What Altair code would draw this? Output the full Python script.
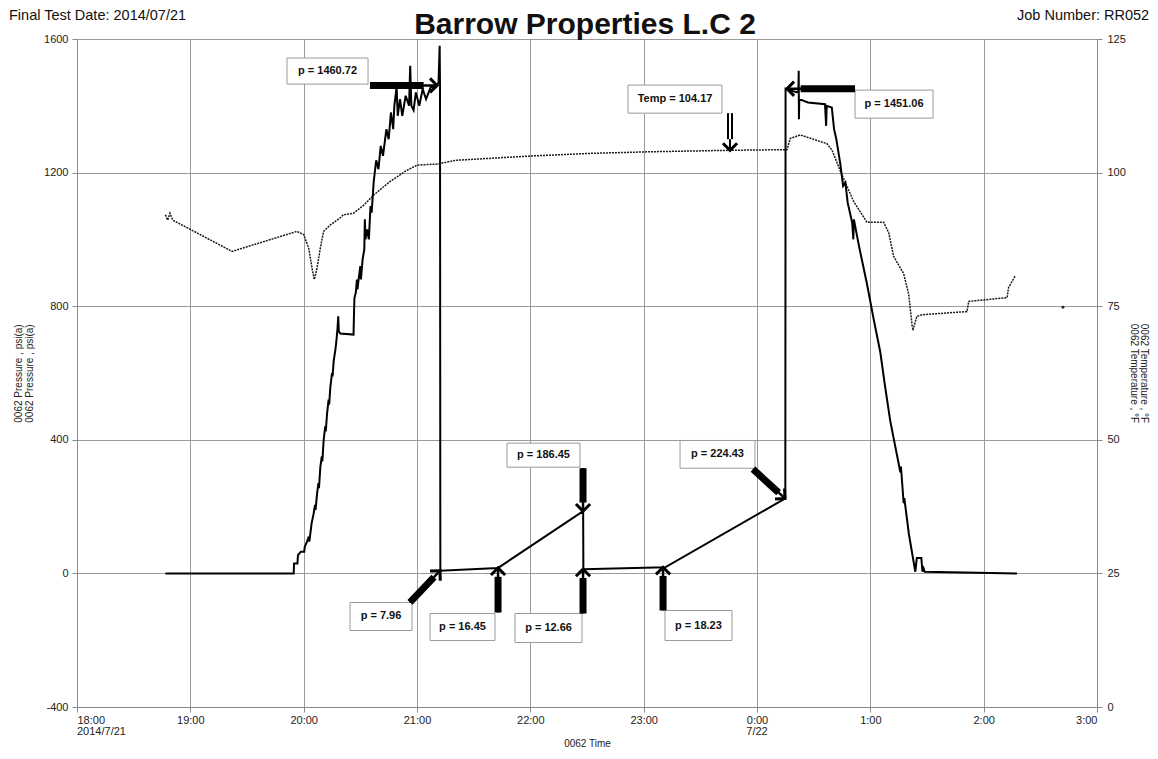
import numpy as np
import pandas as pd
import altair as alt

W, H = 1020, 668
X_DOMAIN = [0, 9]          # hours after 18:00 on 2014/7/21
P_DOMAIN = [-400, 1600]    # psi(a)
T_DOMAIN = [0, 125]        # deg F
FONT = "Liberation Sans"

# ---------------- pressure series (hours after 18:00, psi) ----------------
p_hours = [0.78, 1.912, 1.915, 1.945, 1.95, 1.975, 2.005, 2.01, 2.03, 2.045, 2.05, 2.07,
           2.088, 2.1, 2.105, 2.118, 2.13, 2.135, 2.147, 2.16, 2.165, 2.176, 2.19, 2.195,
           2.206, 2.22, 2.225, 2.235, 2.25, 2.255, 2.265, 2.28, 2.29, 2.3, 2.305, 2.31,
           2.323, 2.44, 2.445, 2.448, 2.46, 2.47, 2.475, 2.485, 2.5, 2.505, 2.52, 2.535,
           2.54, 2.545, 2.56, 2.575, 2.59, 2.6, 2.618, 2.64, 2.66, 2.68, 2.7, 2.73, 2.75,
           2.77, 2.79, 2.8, 2.82, 2.83, 2.85, 2.87, 2.9, 2.93, 2.94, 2.95, 2.97, 2.99,
           3.02, 3.05, 3.08, 3.12, 3.177, 3.19, 3.2, 3.203, 3.206, 3.716, 4.466, 4.468,
           5.19, 6.25, 6.252, 6.3, 6.365, 6.368, 6.37, 6.373, 6.45, 6.6, 6.61, 6.615,
           6.66, 6.68, 6.7, 6.735, 6.76, 6.78, 6.8, 6.84, 6.85, 6.855, 6.9, 6.97, 7.03,
           7.088, 7.13, 7.176, 7.22, 7.265, 7.27, 7.294, 7.3, 7.34, 7.397, 7.41, 7.45,
           7.46, 7.47, 7.48, 8.294]
p_psi = [0, 0, 30, 30, 55, 65, 65, 80, 95, 110, 95, 150,
         179, 205, 190, 238, 270, 255, 318, 350, 335, 398, 440, 425,
         477, 520, 505, 556, 600, 590, 636, 670, 700, 740, 770, 725,
         718, 715, 790, 825, 840, 880, 850, 880, 920, 880, 940, 970,
         1060, 1000, 1030, 1000, 1100, 1080, 1173, 1237, 1210, 1280, 1250, 1330, 1300,
         1380, 1330, 1400, 1456, 1370, 1420, 1370, 1430, 1400, 1520, 1400, 1387, 1440,
         1400, 1450, 1420, 1455, 1460.72, 1470, 1580, 1460, 7.96, 16.45, 186.45, 12.66,
         18.23, 224.43, 1451.06, 1445, 1440, 1505, 1360, 1420, 1410, 1405, 1340, 1400,
         1395, 1330, 1300, 1226, 1160, 1170, 1110, 1050, 1000, 1060, 980, 867, 760,
         662, 560, 456, 380, 303, 320, 210, 225, 118, 5, 46, 46,
         5, 15, 5, 0]

# ---------------- temperature series (hours after 18:00, deg F) ----------------
t_hours = [0.78, 0.8, 0.82, 0.845, 1.368, 1.94, 2.0, 2.044, 2.074, 2.094, 2.118, 2.147,
           2.176, 2.235, 2.32, 2.35, 2.44, 2.53, 2.618, 2.76, 2.9, 3.0, 3.18, 3.34, 4.0,
           4.53, 5.06, 5.76, 6.25, 6.265, 6.294, 6.382, 6.618, 6.662, 6.735, 6.853, 6.97,
           7.118, 7.162, 7.206, 7.294, 7.338, 7.368, 7.376, 7.41, 7.456, 7.853, 7.868,
           8.206, 8.22, 8.28]
t_degf = [92.1, 91.1, 92.4, 91.1, 85.25, 89.0, 88.4, 85.9, 82.1, 80.0, 82.1, 85.9,
          89.0, 90.2, 91.5, 92.1, 92.4, 93.9, 95.8, 98.3, 100.3, 101.4, 101.6, 102.3, 103.1,
          103.6, 103.9, 104.17, 104.3, 104.3, 106.4, 107.05, 105.4, 104.2, 100.3, 94.6, 90.7,
          90.7, 88.75, 84.3, 81.1, 77.3, 71.5, 70.5, 73.1, 73.4, 74.0, 75.9,
          76.6, 78.5, 80.75]
dot_hours = [8.70]
dot_degf = [74.8]

# ---------------- x tick labels (hours after 18:00) ----------------
tick_hours = [0, 1, 2, 3, 4, 5, 6, 7, 8, 9]
tick_time = ["18:00", "19:00", "20:00", "21:00", "22:00", "23:00", "0:00", "1:00", "2:00", "3:00"]
date_hours = [0, 6]
date_text = ["2014/7/21", "7/22"]
date_align = ["left", "center"]

# ---------------- annotation boxes ----------------
box_label = ["p = 1460.72", "Temp = 104.17", "p = 1451.06", "p = 186.45", "p = 224.43",
             "p = 7.96", "p = 16.45", "p = 12.66", "p = 18.23"]
box_h0 = [1.853, 4.862, 6.865, 3.794, 5.321, 2.409, 3.115, 3.865, 5.188]
box_h1 = [2.568, 5.691, 7.553, 4.438, 5.982, 2.956, 3.688, 4.456, 5.779]
box_p0 = [1465, 1378, 1363, 318, 315, -171, -201, -207, -201]
box_p1 = [1543, 1462, 1447, 390, 398, -87, -120, -120, -111]

# ---------------- arrows (tail -> tip, in hours / psi) ----------------
arrow_tail_h = [2.585, 6.865, 4.465, 5.965, 2.938, 3.715, 4.465, 5.171]
arrow_tail_p = [1461, 1451.06, 315, 312, -87, -117, -120, -111]
arrow_tip_h = [3.177, 6.265, 4.465, 6.247, 3.203, 3.715, 4.465, 5.171]
arrow_tip_p = [1461, 1451.06, 186.45, 224.43, 7.96, 16.45, 12.66, 18.23]
temp_arrow_tail_h = [5.762]
temp_arrow_tail_p = [1378]
temp_arrow_tip_h = [5.762]
temp_arrow_tip_p = [1266.7]

px_per_h = W / (X_DOMAIN[1] - X_DOMAIN[0])
px_per_psi = H / (P_DOMAIN[1] - P_DOMAIN[0])


def arrow_frame(h0, p0, h1, p1, frac):
    df = pd.DataFrame({"h0": h0, "p0": p0, "h1": h1, "p1": p1})
    dx = (df.h1 - df.h0) * px_per_h
    dy = -(df.p1 - df.p0) * px_per_psi
    df["angle"] = (np.degrees(np.arctan2(dx, -dy)) + 360) % 360
    df["hm"] = df.h0 + frac * (df.h1 - df.h0)
    df["pm"] = df.p0 + frac * (df.p1 - df.p0)
    return df


arrows = arrow_frame(arrow_tail_h, arrow_tail_p, arrow_tip_h, arrow_tip_p, 0.8)
temp_arrow = arrow_frame(temp_arrow_tail_h, temp_arrow_tail_p, temp_arrow_tip_h, temp_arrow_tip_p, 0.7)

boxes = pd.DataFrame({"label": box_label, "h0": box_h0, "h1": box_h1, "p0": box_p0, "p1": box_p1})
boxes["hc"] = (boxes.h0 + boxes.h1) / 2
boxes["pc"] = (boxes.p0 + boxes.p1) / 2

pdf = pd.DataFrame({"h": p_hours, "p": p_psi})
tdf = pd.DataFrame({"h": t_hours, "t": t_degf})
ddf = pd.DataFrame({"h": dot_hours, "t": dot_degf})
dates = pd.DataFrame({"h": date_hours, "label": date_text, "al": date_align})

xs = alt.Scale(domain=X_DOMAIN, nice=False, zero=False)
ys = alt.Scale(domain=P_DOMAIN, nice=False, zero=False)
ts = alt.Scale(domain=T_DOMAIN, nice=False, zero=False)

label_map = "{" + ", ".join(f"'{h}': '{t}'" for h, t in zip(tick_hours, tick_time)) + "}"
x_axis = alt.Axis(
    values=tick_hours,
    labelExpr=f"{label_map}[datum.value + '']",
    labelFlush=True, grid=True, tickSize=5, labelPadding=2,
    title="0062 Time", titlePadding=13,
)
y_axis = alt.Axis(
    values=[-400, 0, 400, 800, 1200, 1600], grid=True, tickSize=5, labelPadding=4,
    labelExpr="'' + datum.value",
    title=["0062 Pressure , psi(a)", "0062 Pressure , psi(a)"], titlePadding=9, titleLineHeight=11,
)
t_axis = alt.Axis(
    values=[0, 25, 50, 75, 100, 125], grid=False, orient="right", tickSize=5, labelPadding=5,
    title=["0062 Temperature , °F", "0062 Temperature , °F"], titlePadding=3, titleLineHeight=10,
)


def X(f):
    return alt.X(f, type="quantitative", scale=xs, axis=x_axis)


def Y(f, axis=None):
    return alt.Y(f, type="quantitative", scale=ys, axis=axis)


press_line = alt.Chart(pdf).mark_line(color="black", strokeWidth=2).encode(
    x=X("h"), y=Y("p", y_axis)
)
temp_line = alt.Chart(tdf).mark_line(color="#1a1a1a", strokeWidth=1.5, strokeDash=[2, 1]).encode(
    x=X("h"), y=alt.Y("t:Q", scale=ts, axis=t_axis)
)
temp_dot = alt.Chart(ddf).mark_point(filled=True, size=8, color="#222", opacity=1).encode(
    x=X("h"), y=alt.Y("t:Q", scale=ts, axis=None)
)

box_rect = alt.Chart(boxes).mark_rect(fill="white", stroke="#9a9a9a", strokeWidth=1).encode(
    x=X("h0"), x2="h1", y=Y("p0"), y2="p1"
)
box_text = alt.Chart(boxes).mark_text(font=FONT, fontSize=11, fontWeight="bold", color="#111").encode(
    x=X("hc"), y=Y("pc"), text="label:N"
)

CHEVRON = "M-1,1L0,0L1,1"
arrow_thin = alt.Chart(arrows).mark_rule(color="black", strokeWidth=2.5).encode(
    x=X("h0"), x2="h1", y=Y("p0"), y2="p1"
)
arrow_thick = alt.Chart(arrows).mark_rule(color="black", strokeWidth=7).encode(
    x=X("h0"), x2="hm", y=Y("p0"), y2="pm"
)
arrow_head = alt.Chart(arrows).mark_point(
    shape=CHEVRON, filled=False, size=200, strokeWidth=3, color="black", opacity=1, strokeJoin="miter"
).encode(x=X("h1"), y=Y("p1"), angle=alt.Angle("angle:Q", scale=None))

tarrow_outer = alt.Chart(temp_arrow).mark_rule(color="black", strokeWidth=6).encode(
    x=X("h0"), x2="hm", y=Y("p0"), y2="pm"
)
tarrow_inner = alt.Chart(temp_arrow).mark_rule(color="white", strokeWidth=2).encode(
    x=X("h0"), x2="hm", y=Y("p0"), y2="pm"
)
tarrow_thin = alt.Chart(temp_arrow).mark_rule(color="black", strokeWidth=2).encode(
    x=X("hm"), x2="h1", y=Y("pm"), y2="p1"
)
tarrow_head = alt.Chart(temp_arrow).mark_point(
    shape=CHEVRON, filled=False, size=200, strokeWidth=3, color="black", opacity=1, strokeJoin="miter"
).encode(x=X("h1"), y=Y("p1"), angle=alt.Angle("angle:Q", scale=None))

date_left = alt.Chart(dates).transform_filter("datum.al == 'left'").mark_text(
    font=FONT, fontSize=11, color="#222", align="left", baseline="top"
).encode(x=X("h"), y=alt.value(H + 19), text="label:N")
date_center = alt.Chart(dates).transform_filter("datum.al == 'center'").mark_text(
    font=FONT, fontSize=11, color="#222", align="center", baseline="top"
).encode(x=X("h"), y=alt.value(H + 19), text="label:N")

hdr = pd.DataFrame({"k": [0]})
title_txt = alt.Chart(hdr).mark_text(font=FONT, fontSize=30, fontWeight="bold", color="#111",
                                     align="center", baseline="middle").encode(
    x=alt.value(508), y=alt.value(-14), text=alt.value("Barrow Properties L.C 2"))
date_txt = alt.Chart(hdr).mark_text(font=FONT, fontSize=14.5, color="#111", align="left",
                                    baseline="middle").encode(
    x=alt.value(-68), y=alt.value(-23), text=alt.value("Final Test Date: 2014/07/21"))
job_txt = alt.Chart(hdr).mark_text(font=FONT, fontSize=14.5, color="#111", align="left",
                                   baseline="middle").encode(
    x=alt.value(940), y=alt.value(-23), text=alt.value("Job Number: RR052"))

chart = alt.layer(
    temp_line, temp_dot, press_line, box_rect, box_text, arrow_thin, arrow_thick, arrow_head,
    tarrow_outer, tarrow_inner, tarrow_thin, tarrow_head, date_left, date_center,
    title_txt, date_txt, job_txt,
).resolve_scale(y="independent").properties(
    width=W, height=H,
    autosize=alt.AutoSizeParams(type="none"),
    padding={"left": 69, "top": 31, "right": 53, "bottom": 42},
).configure_view(stroke="#8a8a8a", strokeWidth=1).configure_axis(
    labelFont=FONT, labelFontSize=11, labelColor="#222", titleFont=FONT, titleFontSize=10,
    titleFontWeight="normal", titleColor="#222", domainColor="#8a8a8a", tickColor="#8a8a8a",
    gridColor="#9a9a9a", gridWidth=1, gridOpacity=1,
)

chart.save("out.html", embed_options={"renderer": "svg", "actions": False})
